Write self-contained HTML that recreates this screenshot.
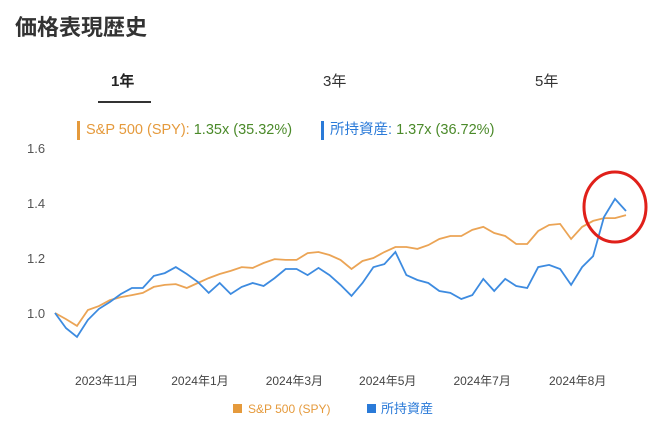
<!DOCTYPE html>
<html><head><meta charset="utf-8"><style>
body{margin:0;width:669px;height:434px;background:#fff;overflow:hidden;font-family:"Liberation Sans","Noto Sans CJK JP",sans-serif;position:relative}
.a{position:absolute;white-space:nowrap}
</style></head><body>
<div class="a" style="left:15px;top:10px;font-size:22px;font-weight:bold;color:#333">価格表現歴史</div>
<div class="a" style="left:111px;top:70px;font-size:15px;font-weight:bold;color:#222">1年</div>
<div class="a" style="left:98px;top:101px;width:53px;height:2px;background:#333"></div>
<div class="a" style="left:323px;top:70px;font-size:15px;color:#333">3年</div>
<div class="a" style="left:535px;top:70px;font-size:15px;color:#333">5年</div>
<div class="a" style="left:77px;top:121px;font-size:14.5px;line-height:19px;border-left:3px solid #e59a3c;padding-left:6px"><span style="color:#e59a3c">S&amp;P 500 (SPY):</span> <span style="color:#4b8a2a">1.35x (35.32%)</span></div>
<div class="a" style="left:321px;top:121px;font-size:14.5px;line-height:19px;border-left:3px solid #2a7ad8;padding-left:6px"><span style="color:#2a7ad8">所持資産:</span> <span style="color:#4b8a2a">1.37x (36.72%)</span></div>
<svg class="a" style="left:0;top:0" width="669" height="434">
<g id="yt" font-size="13" fill="#555" text-anchor="start"></g>
<g id="xt" font-size="12" fill="#444" text-anchor="middle"></g>
<path id="spy" fill="none" stroke="#eba455" stroke-width="1.8"/>
<path id="hold" fill="none" stroke="#3d8be0" stroke-width="1.8"/>
<ellipse cx="615" cy="207" rx="31" ry="35" fill="none" stroke="#e0201a" stroke-width="3"/>
<rect x="233" y="404" width="9" height="9" fill="#e59a3c"/>
<text x="248" y="413" font-size="12" fill="#e59a3c">S&amp;P 500 (SPY)</text>
<rect x="367" y="404" width="9" height="9" fill="#2a7ad8"/>
<text x="381" y="413" font-size="13" fill="#2a7ad8">所持資産</text>
</svg>
<script>
const spyValues=[1.0,0.978,0.953,1.011,1.025,1.047,1.058,1.065,1.073,1.095,1.102,1.105,1.091,1.109,1.127,1.142,1.153,1.167,1.164,1.182,1.196,1.193,1.193,1.218,1.222,1.211,1.193,1.16,1.189,1.2,1.222,1.24,1.24,1.233,1.247,1.269,1.28,1.28,1.302,1.313,1.291,1.28,1.251,1.251,1.298,1.32,1.324,1.269,1.313,1.335,1.345,1.345,1.356];
const holdValues=[1.0,0.945,0.913,0.975,1.015,1.04,1.069,1.091,1.091,1.135,1.145,1.167,1.142,1.113,1.073,1.109,1.069,1.095,1.109,1.098,1.127,1.16,1.16,1.138,1.164,1.138,1.102,1.062,1.109,1.167,1.178,1.222,1.138,1.12,1.109,1.08,1.073,1.051,1.065,1.124,1.08,1.124,1.098,1.091,1.167,1.175,1.16,1.102,1.167,1.207,1.349,1.415,1.371];
const yTicks=[1.0,1.2,1.4,1.6];
const xLabels=["2023年11月","2024年1月","2024年3月","2024年5月","2024年7月","2024年8月"];
const xLabelIdx=[4.7,13.2,21.8,30.3,38.9,47.6];
const X0=55,X1=626,Y0=313,PX=275;
const n=spyValues.length;
const xs=i=>X0+(X1-X0)*i/(n-1);
const ys=v=>Y0-(v-1)*PX;
const ns="http://www.w3.org/2000/svg";
function line(vals,id){document.getElementById(id).setAttribute('d',vals.map((v,i)=>(i?'L':'M')+xs(i).toFixed(1)+' '+ys(v).toFixed(1)).join(''));}
line(spyValues,'spy');line(holdValues,'hold');
const yt=document.getElementById('yt');
yTicks.forEach(t=>{const e=document.createElementNS(ns,'text');


e.setAttribute('x',27);e.setAttribute('y',ys(t)+5);e.textContent=t.toFixed(1);yt.appendChild(e);});
const xt=document.getElementById('xt');
xLabels.forEach((l,i)=>{const e=document.createElementNS(ns,'text');


e.setAttribute('x',xs(xLabelIdx[i]));e.setAttribute('y',385);e.textContent=l;xt.appendChild(e);});
</script>
</body></html>
